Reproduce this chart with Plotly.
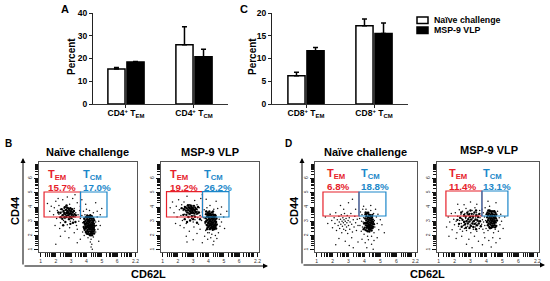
import plotly.graph_objects as go

W, H = 550, 281
FONT = "Liberation Sans, Arial, sans-serif"

# ---- bar chart data ----
cats_a = ["CD4<sup>+</sup> T<sub>EM</sub>", "CD4<sup>+</sup> T<sub>CM</sub>"]
naive_a = [15.4, 26.0]
naive_a_err = [0.6, 8.0]
vlp_a = [18.5, 20.8]
vlp_a_err = [0.2, 3.3]

cats_c = ["CD8<sup>+</sup> T<sub>EM</sub>", "CD8<sup>+</sup> T<sub>CM</sub>"]
naive_c = [6.2, 17.2]
naive_c_err = [0.8, 1.5]
vlp_c = [11.7, 15.5]
vlp_c_err = [0.7, 2.3]

# ---- flow panel text ----
pct_b1 = ["15.7%", "17.0%"]
pct_b2 = ["19.2%", "26.2%"]
pct_d1 = ["6.8%", "18.8%"]
pct_d2 = ["11.4%", "13.1%"]

# ---- flow dots (x = CD62L tick units, y = CD44 tick units) ----
b1_pts = [
(1.45,4.25),(1.6,3.7),(1.7,4.05),(1.85,3.45),(1.9,3.95),(2.0,4.4),(2.05,3.2),(2.1,3.75),(2.2,3.5),(2.2,4.1),
(2.3,2.9),(2.3,3.85),(2.35,3.3),(2.4,3.65),(2.45,4.5),(2.5,3.05),(2.5,3.5),(2.55,3.9),(2.6,3.75),(2.6,3.2),
(2.65,3.6),(2.65,4.05),(2.7,3.4),(2.7,3.85),(2.72,3.7),(2.75,2.75),(2.78,3.55),(2.8,3.95),(2.8,3.25),(2.85,3.65),
(2.85,3.8),(2.9,3.45),(2.9,4.2),(2.95,3.6),(2.95,3.0),(3.0,3.85),(3.0,3.35),(3.05,3.7),(3.1,4.6),(3.1,3.5),
(3.15,3.1),(3.2,3.9),(3.25,3.3),(3.3,3.6),(3.35,2.7),(3.4,4.3),(3.45,3.45),(3.5,3.0),(3.55,3.75),(3.6,3.2),
(2.25,2.5),(2.6,2.3),(2.9,2.55),(3.2,2.2),(3.4,2.45),(1.95,2.7),(2.75,4.7),(3.25,4.85),(2.15,4.6),(3.7,4.5),
(3.7,3.4),(3.75,2.9),(3.8,3.7),(3.82,2.5),(3.85,3.15),(3.9,2.75),(3.9,3.45),(3.95,2.3),(3.95,3.0),(3.98,3.3),
(4.0,3.85),(4.2,3.75),(4.45,3.6),(4.7,3.7),(4.9,3.45),(3.6,4.05),(3.95,4.2),(4.6,4.3),(5.0,3.9),(4.35,1.4),(4.3,1.2),
(4.38,1.05),(4.25,1.55),(3.4,1.5),(2.85,1.85),(2.3,1.95),(3.6,1.75),(2.0,1.4),(4.8,1.6),
(4.7,3.3),(4.75,2.45),(4.8,3.0),(4.9,2.7),(3.85,2.0),(3.75,2.25),(4.1,1.85),(4.3,1.75),(4.45,1.9),(4.6,2.95),(4.6,2.25),(4.65,2.7)]
b1_core = [
(3.82,2.6),(3.84,2.95),(3.86,3.2),(3.88,2.4),(3.92,2.75),(3.94,3.05),(3.96,2.25),(3.98,3.3),(4.0,2.55),(4.0,2.9),
(4.02,2.15),(4.04,3.15),(4.06,2.4),(4.06,2.7),(4.08,2.98),(4.1,3.28),(4.12,2.25),(4.12,2.55),(4.14,2.82),(4.16,3.1),
(4.18,2.1),(4.18,2.42),(4.2,2.68),(4.2,2.95),(4.22,3.22),(4.24,2.28),(4.25,2.55),(4.26,2.8),(4.28,3.05),(4.28,3.35),
(4.3,2.15),(4.3,2.42),(4.32,2.68),(4.33,2.92),(4.34,3.18),(4.36,2.3),(4.37,2.55),(4.38,2.8),(4.4,3.05),(4.4,2.15),
(4.42,2.42),(4.43,2.68),(4.44,2.95),(4.45,3.2),(4.47,2.28),(4.48,2.55),(4.49,2.82),(4.5,3.08),(4.52,2.4),(4.54,2.68),
(3.9,2.5),(3.98,2.82),(4.03,2.62),(4.1,2.85),(4.15,2.68),(4.22,2.48),(4.29,2.75),(4.35,2.62),(4.41,2.88),(4.46,2.48),
(4.08,2.12),(4.24,2.02),(4.36,2.02),(4.15,3.35),(4.35,3.35),(4.5,2.15),(3.88,2.85),(3.95,2.6),(4.05,3.4),(4.25,3.42),
(4.27,2.6),(4.17,2.98),(4.12,3.08),(4.33,2.22),(4.06,2.32),(4.4,2.5)]
b1_em = [
(2.3,3.6),(2.38,3.85),(2.44,3.42),(2.5,3.72),(2.55,3.58),(2.58,3.98),(2.62,3.48),(2.66,3.8),(2.68,3.3),(2.72,3.58),
(2.74,3.95),(2.76,3.72),(2.8,3.42),(2.82,3.62),(2.84,3.88),(2.88,3.52),(2.9,3.75),(2.92,3.32),(2.95,3.92),(2.98,3.55),
(3.0,3.7),(3.04,3.45),(3.06,3.85),(3.1,3.62),(3.14,3.35),(3.18,3.72),(2.56,3.28),(2.7,4.1),(2.86,3.15),(3.02,3.22),
(3.22,3.5),(2.42,3.18),(2.3,3.28),(2.16,3.62),(3.3,3.42),(2.62,2.95),(3.12,2.9),(2.48,2.72),(2.95,2.82),(3.28,2.95)]

b2_pts = [
(1.5,3.95),(1.65,4.35),(1.75,3.6),(1.9,4.05),(1.95,3.3),(2.05,4.5),(2.1,3.8),(2.2,3.4),(2.25,4.15),(2.3,3.05),
(2.35,3.75),(2.4,4.35),(2.45,3.5),(2.5,3.95),(2.55,2.85),(2.55,3.65),(2.6,4.05),(2.65,3.85),(2.65,3.3),(2.7,3.95),
(2.72,3.6),(2.75,4.15),(2.78,3.8),(2.8,3.45),(2.82,4.0),(2.85,3.7),(2.88,3.9),(2.9,3.2),(2.92,4.1),(2.95,3.55),
(2.98,3.8),(3.0,2.95),(3.02,3.95),(3.05,3.4),(3.08,3.7),(3.1,4.45),(3.12,3.1),(3.15,3.85),(3.2,3.5),(3.25,4.15),
(3.3,3.25),(3.3,3.7),(3.35,2.8),(3.4,3.95),(3.45,3.4),(3.5,4.6),(3.55,3.05),(3.6,3.65),(2.4,2.55),(2.75,2.3),
(3.05,2.6),(3.25,2.15),(2.55,1.95),(2.15,2.7),(3.45,2.45),(3.6,4.85),(2.6,4.75),(1.85,2.85),
(3.7,3.25),(3.72,3.8),(3.78,2.85),(3.82,2.35),(3.88,3.7),(3.95,2.2),(4.05,2.2),(4.22,2.1),(4.45,2.0),(4.65,2.2),
(4.7,3.15),(4.75,2.65),(4.8,3.5),(4.85,2.95),(5.0,3.3),
(5.05,2.5),(3.75,1.95),(3.95,1.75),(4.15,1.85),(4.35,1.6),(4.55,1.8),(4.3,1.35),(3.6,1.5),(3.0,1.7),(3.9,3.95),
(4.1,4.1),(4.35,3.85),(4.6,3.9),(4.85,4.0),(4.5,4.4),(3.85,4.55),(5.2,3.7),(2.6,1.55)]
b2_core = [
(3.8,2.95),(3.82,3.22),(3.84,3.5),(3.88,2.75),(3.9,3.08),(3.92,3.35),(3.94,2.55),(3.96,3.6),(3.98,2.88),(4.0,3.15),
(4.02,2.62),(4.03,3.42),(4.05,2.98),(4.07,2.72),(4.09,3.25),(4.1,3.55),(4.12,2.52),(4.14,2.85),(4.15,3.1),(4.17,3.38),
(4.19,2.68),(4.2,2.95),(4.22,3.22),(4.23,3.62),(4.25,2.5),(4.26,2.78),(4.27,3.05),(4.29,3.32),(4.3,2.62),(4.32,2.9),
(4.33,3.15),(4.35,3.45),(4.36,2.72),(4.38,2.45),(4.39,3.0),(4.4,3.25),(4.42,2.58),(4.44,2.82),(4.45,3.1),(4.47,3.38),
(4.48,2.68),(4.5,2.95),(4.52,3.2),(3.86,3.0),(3.93,2.7),(4.0,3.3),(4.06,3.1),(4.13,3.48),(4.18,2.58),(4.24,2.9),
(4.3,3.48),(4.34,2.55),(4.41,2.72),(4.46,2.95),(4.16,2.75),(4.08,2.45),(4.28,2.4),(4.2,3.45),(3.98,3.5),(4.36,3.3),
(4.11,3.0),(4.25,3.2),(4.02,2.85),(4.43,3.45),(3.9,2.45),(4.5,2.5),(4.54,2.78),(3.85,3.68),(4.06,3.68),(4.3,3.68)]
b2_em = [
(2.4,3.85),(2.46,4.0),(2.52,3.75),(2.58,3.92),(2.62,3.62),(2.66,4.12),(2.68,3.78),(2.72,3.98),(2.75,3.52),(2.78,3.92),
(2.8,3.7),(2.83,4.1),(2.86,3.58),(2.88,3.82),(2.9,4.0),(2.94,3.72),(2.96,3.92),(3.0,3.62),(3.02,3.82),(3.05,4.08),
(3.08,3.55),(3.1,3.78),(3.14,3.95),(3.18,3.65),(3.22,3.85),(3.28,3.55),(2.56,3.45),(2.7,3.3),(2.92,3.35),(3.12,3.32),
(2.36,3.45),(2.25,3.92),(3.32,4.0),(3.38,3.62),(2.8,3.05),(3.0,3.15),(2.6,2.95),(3.25,2.9),(2.45,3.15),(3.45,3.15)]

d1_pts = [
(1.55,3.3),(1.7,2.85),(1.85,3.5),(1.95,3.05),(2.0,2.55),(2.1,3.25),(2.15,2.85),(2.2,3.6),(2.25,2.35),(2.3,3.1),
(2.35,2.7),(2.4,3.35),(2.42,2.95),(2.45,2.5),(2.5,3.15),(2.52,2.8),(2.55,3.45),(2.58,2.2),(2.6,3.0),(2.62,2.65),
(2.65,3.25),(2.68,2.9),(2.7,2.45),(2.72,3.1),(2.75,3.55),(2.78,2.75),(2.8,3.0),(2.82,2.35),(2.85,3.2),(2.88,2.6),
(2.9,2.9),(2.92,3.4),(2.95,2.15),(2.98,3.05),(3.0,2.7),(3.05,3.25),(3.08,2.45),(3.1,2.95),(3.15,3.55),(3.2,2.8),
(3.25,2.25),(3.3,3.1),(3.35,2.6),(3.4,3.35),(3.45,2.9),(3.5,2.35),(3.55,3.15),(3.6,2.7),(2.4,1.8),(2.8,1.6),
(3.2,1.85),(3.05,1.3),(2.5,4.1),(3.0,4.3),(3.25,4.55),(2.7,3.85),(3.45,3.85),(2.2,1.35),
(3.7,3.2),(3.72,2.7),(3.75,3.65),(3.8,2.3),(3.82,3.0),(3.85,3.45),(3.88,2.6),(3.9,3.85),(3.92,2.95),(3.95,3.25),
(3.98,2.1),(4.1,3.85),(4.2,1.95),(4.4,3.75),(4.45,1.95),(4.58,3.55),(4.6,2.2),(4.62,3.05),(4.65,2.6),(4.7,3.85),(4.75,3.3),(4.8,2.85),
(4.85,3.5),(4.9,2.4),(5.0,3.1),(5.1,2.75),(3.85,1.75),(4.05,1.5),(4.25,1.7),(4.45,1.4),(4.6,1.65),(4.8,1.85),
(3.6,1.55),(3.3,1.15),(4.15,1.15),(4.55,1.05),(5.25,2.2),(3.95,4.05),(4.4,4.1)]
d1_core = [
(4.02,2.55),(4.04,2.88),(4.05,3.2),(4.07,3.5),(4.09,2.38),(4.1,2.72),(4.12,3.05),(4.13,3.35),(4.15,2.55),(4.16,2.88),
(4.18,3.18),(4.19,3.58),(4.2,2.3),(4.22,2.68),(4.23,2.98),(4.24,3.28),(4.26,2.48),(4.27,2.8),(4.28,3.1),(4.29,3.45),
(4.31,2.28),(4.32,2.62),(4.33,2.92),(4.34,3.22),(4.36,2.42),(4.37,2.75),(4.38,3.05),(4.39,3.35),(4.41,2.55),(4.42,2.88),
(4.43,3.18),(4.45,2.35),(4.46,2.68),(4.47,3.0),(4.48,3.3),(4.5,2.52),(4.51,2.82),(4.52,3.12),(4.54,2.62),(4.55,2.95),
(4.25,2.62),(4.35,2.55),(4.3,2.72),(4.21,2.85),(4.4,2.7),(4.29,2.42),(4.18,2.62),(4.44,2.52),(4.34,3.45),(4.14,3.52),
(4.08,3.62),(4.24,3.6),(4.5,3.45),(3.98,2.85),(3.95,2.45),(4.6,2.8)]

d2_pts = [
(1.5,2.6),(1.6,3.3),(1.7,2.95),(1.8,3.55),(1.85,2.4),(1.95,3.15),(2.0,2.75),(2.05,3.6),(2.1,3.0),(2.15,2.2),
(2.2,3.35),(2.25,2.65),(2.3,3.8),(2.32,3.05),(2.35,2.45),(2.4,3.5),(2.42,2.85),(2.45,3.2),(2.5,2.3),(2.5,3.7),
(2.55,2.7),(2.58,3.35),(2.6,3.0),(2.62,2.5),(2.65,3.55),(2.68,2.85),(2.7,3.2),(2.72,3.9),(2.75,2.35),(2.78,3.05),
(2.8,3.45),(2.82,2.65),(2.85,3.7),(2.88,2.95),(2.9,3.25),(2.92,2.5),(2.95,3.55),(2.98,2.8),(3.0,3.1),(3.02,2.2),
(3.05,3.35),(3.08,2.65),(3.1,3.75),(3.12,2.95),(3.15,3.2),(3.18,2.45),(3.2,3.5),(3.22,2.8),(3.25,3.05),(3.28,3.95),
(3.3,2.6),(3.32,3.3),(3.35,2.9),(3.38,3.6),(3.4,2.3),(3.42,3.15),(3.45,2.7),(3.48,3.45),(3.5,3.0),(3.55,2.5),
(3.58,3.75),(3.6,3.25),(2.45,1.95),(2.9,1.75),(3.25,1.95),(3.5,1.6),(2.1,1.8),(1.65,1.95),(2.6,4.15),(3.0,4.35),
(2.2,4.2),(3.4,4.2),(2.75,1.4),(3.1,1.15),
(3.68,3.4),(3.7,2.8),(3.72,3.85),(3.75,3.1),(3.78,2.45),(3.8,3.6),(3.82,2.95),(3.85,2.2),(3.88,3.3),(3.9,2.7),
(3.92,3.95),(3.95,3.05),(3.98,2.5),(4.0,3.5),(4.1,2.35),(4.2,4.05),(4.45,2.2),(4.55,2.45),(4.7,3.7),(4.75,2.3),(4.8,3.25),
(4.85,2.75),(4.9,3.5),(4.95,3.0),(5.05,2.5),(3.9,1.85),(4.15,1.65),(4.4,1.85),(4.6,1.5),(4.85,1.8),(3.75,1.35),
(4.3,1.2),(4.1,4.4),(4.6,4.3),(5.15,3.3)]
d2_core = [
(4.03,2.95),(4.05,3.28),(4.07,3.62),(4.09,2.72),(4.1,3.08),(4.12,3.42),(4.14,2.85),(4.15,3.2),(4.17,3.55),(4.18,2.6),
(4.2,2.98),(4.22,3.32),(4.23,3.7),(4.25,2.78),(4.26,3.1),(4.27,3.45),(4.29,2.9),(4.3,3.22),(4.32,3.58),(4.33,2.68),
(4.35,3.02),(4.36,3.35),(4.38,2.85),(4.39,3.15),(4.4,3.5),(4.42,2.7),(4.43,3.0),(4.45,3.28),(4.46,3.68),(4.48,2.88),
(4.49,3.18),(4.5,3.45),(4.52,2.72),(4.53,3.02),(4.55,3.32),(4.56,3.6),(4.58,2.92),(4.6,3.2),(4.62,2.68),(4.62,3.48),
(4.3,2.55),(4.4,2.6),(4.2,3.75),(4.5,3.7),(4.12,3.75),(4.35,3.7),(4.02,3.5),(4.66,3.05),(4.55,2.58),(4.23,2.52)]
d2_em = [
(2.5,3.1),(2.6,3.45),(2.65,2.78),(2.7,3.32),(2.75,3.0),(2.8,3.6),(2.83,2.85),(2.86,3.15),(2.9,3.48),(2.94,2.98),
(2.98,3.3),(3.02,2.68),(3.05,3.12),(3.08,3.52),(3.12,2.85),(3.16,3.32),(3.2,3.0),(3.25,3.62),(3.28,2.82),(3.32,3.12),
(3.36,3.42),(3.4,2.72),(3.44,3.05),(3.48,3.3),(3.52,2.85),(3.56,3.52),(3.6,3.0),(2.35,3.25),(2.28,2.82),(2.45,2.62),
(2.72,2.55),(2.95,2.55),(3.18,2.6),(3.35,2.45),(3.65,2.65),(2.18,3.1),(2.42,3.62),(3.0,3.75),(2.6,2.95),(3.35,3.75)]

# ---- flow gates: [left, middle, right, bottom, top] in tick units ----
gate_b1 = [1.23, 3.61, 5.34, 3.30, 5.05]
gate_b2 = [1.26, 3.61, 5.34, 3.30, 5.08]
gate_d1 = [1.40, 3.66, 5.35, 3.37, 5.05]
gate_d2 = [1.46, 3.72, 5.35, 3.37, 5.12]

RED, BLUE = "#e6212b", "#1c87c9"
minor_offsets = [0.30, 0.48, 0.60, 0.70, 0.78, 0.85, 0.90, 0.95]
major_ticks = [1, 2, 3, 4, 5, 6, 7.2]
major_labels = ["1", "2", "3", "4", "5", "6", "2.2"]


def dom_x(a, b):
    return [a / W, b / W]


def dom_y(top, bottom):
    return [1 - bottom / H, 1 - top / H]


def px(x):
    return x / W


def py(y):
    return 1 - y / H


fig = go.Figure()
layout = dict(
    width=W, height=H, autosize=False, margin=dict(l=0, r=0, t=0, b=0, pad=0),
    paper_bgcolor="white", plot_bgcolor="white", showlegend=False,
    barmode="group", bargap=0.44, bargroupgap=0.1,
    font=dict(family=FONT, color="black"),
)
shapes, notes = [], []


def text(x, y, s, size, color="black", anchor="center", angle=0, bold=True):
    notes.append(dict(
        x=px(x), y=py(y), xref="paper", yref="paper", text=f"<b>{s}</b>" if bold else s,
        showarrow=False, xanchor=anchor, yanchor="middle", textangle=angle,
        font=dict(size=size, color=color, family=FONT),
    ))


def bar_panel(n, cats, v1, e1, v2, e2, ymax, dtick, x0, x1, xr):
    xa, ya = f"x{n}", f"y{n}"
    fig.add_bar(x=cats, y=v1, name="Naïve challenge", xaxis=xa, yaxis=ya,
                marker=dict(color="white", line=dict(color="black", width=1.5)),
                error_y=dict(type="data", symmetric=False, array=e1, arrayminus=[0, 0],
                             color="black", thickness=1.5, width=2.5))
    fig.add_bar(x=cats, y=v2, name="MSP-9 VLP", xaxis=xa, yaxis=ya,
                marker=dict(color="black", line=dict(color="black", width=1.5)),
                error_y=dict(type="data", symmetric=False, array=e2, arrayminus=[0, 0],
                             color="black", thickness=1.5, width=2.5))
    layout[f"xaxis{n}"] = dict(
        domain=dom_x(x0, x1), anchor=ya, type="category", range=xr, automargin=False,
        showline=True, linecolor="#333", linewidth=1.2, showgrid=False, zeroline=False,
        ticks="outside", ticklen=3, tickwidth=1, tickcolor="#222", ticklabelstandoff=-2,
        tickfont=dict(size=8.5, family=FONT, color="black"),
        tickmode="array", tickvals=cats, ticktext=[f"<b>{c}</b>" for c in cats],
    )
    layout[f"yaxis{n}"] = dict(
        domain=dom_y(13, 104), anchor=xa, range=[0, ymax], automargin=False,
        showline=True, linecolor="#222", linewidth=1.2, showgrid=False, zeroline=False,
        ticks="outside", ticklen=3, tickwidth=1.2, tickcolor="#222",
        tickmode="array", tickvals=list(range(0, ymax + 1, dtick)),
        ticktext=[f"<b>{v}</b>" for v in range(0, ymax + 1, dtick)],
        tickfont=dict(size=8.5, family=FONT, color="black"),
    )


def flow_panel(n, pts, core, gate, x0, x1):
    xa, ya = f"x{n}", f"y{n}"
    fig.add_scatter(x=[p[0] for p in pts], y=[p[1] for p in pts], mode="markers",
                    xaxis=xa, yaxis=ya, hoverinfo="skip",
                    marker=dict(color="#111", size=1.5, symbol="circle", line=dict(width=0)))
    fig.add_scatter(x=[p[0] for p in core], y=[p[1] for p in core], mode="markers",
                    xaxis=xa, yaxis=ya, hoverinfo="skip",
                    marker=dict(color="black", size=2.4, symbol="circle", line=dict(width=0)))
    minors = [d + m for d in range(1, 7) for m in minor_offsets]
    common = dict(
        showline=True, mirror=True, linecolor="#555", linewidth=1, showgrid=False, zeroline=False,
        automargin=False,
        ticks="outside", ticklen=4, tickwidth=1, tickcolor="#111", tickmode="array",
        tickvals=major_ticks, ticktext=major_labels, tickfont=dict(size=5, family=FONT, color="#333"),
        minor=dict(tickmode="array", tickvals=minors, ticks="outside", ticklen=3.5, tickwidth=1, tickcolor="#111"),
    )
    layout[f"xaxis{n}"] = dict(domain=dom_x(x0, x1), anchor=ya, range=[0.9, 7.3], **common)
    layout[f"yaxis{n}"] = dict(domain=dom_y(162, 252), anchor=xa, range=[0.85, 7.15],
                               tickangle=-90, **common)
    l, m, r, b, t = gate
    shapes.append(dict(type="rect", xref=xa, yref=ya, x0=l, x1=m, y0=b, y1=t,
                       line=dict(color=RED, width=1.2)))
    shapes.append(dict(type="rect", xref=xa, yref=ya, x0=m, x1=r, y0=b, y1=t,
                       line=dict(color=BLUE, width=1.2)))


bar_panel(1, cats_a, naive_a, naive_a_err, vlp_a, vlp_a_err, 40, 10, 93, 228, [-0.485, 1.5])
bar_panel(2, cats_c, naive_c, naive_c_err, vlp_c, vlp_c_err, 20, 5, 272, 408, [-0.5, 1.5])
flow_panel(3, b1_pts, b1_core + b1_em, gate_b1, 39, 137)
flow_panel(4, b2_pts, b2_core + b2_em, gate_b2, 161, 259)
flow_panel(5, d1_pts, d1_core, gate_d1, 315, 417)
flow_panel(6, d2_pts, d2_core + d2_em, gate_d2, 437, 539)

# panel letters and axis titles
text(65, 9, "A", 11)
text(244, 9, "C", 11)
text(8, 143, "B", 10)
text(288, 143, "D", 10)
text(71, 57, "Percent", 10, angle=-90)
text(252, 57, "Percent", 10, angle=-90)
text(15, 211, "CD44", 11, angle=-90)
text(294, 211, "CD44", 11, angle=-90)
text(148, 274, "CD62L", 11)
text(427, 274, "CD62L", 11)

# flow titles
text(87.5, 152, "Naïve challenge", 11)
text(210, 152, "MSP-9 VLP", 11)
text(365.5, 152, "Naïve challenge", 11)
text(489, 150, "MSP-9 VLP", 11)

# gate labels
for xl, xr_, ytop, pct in [(46, 80.5, 175, pct_b1), (168, 202, 175, pct_b2),
                           (325, 359, 174, pct_d1), (447, 481, 174, pct_d2)]:
    text(xl, ytop, "T<sub>EM</sub>", 11, RED, "left")
    text(xr_, ytop, "T<sub>CM</sub>", 11, BLUE, "left")
    text(xl, ytop + 12.5, pct[0], 9.8, RED, "left")
    text(xr_, ytop + 12.5, pct[1], 9.8, BLUE, "left")

# legend
shapes.append(dict(type="rect", xref="paper", yref="paper", x0=px(417), x1=px(428), y0=py(23.5), y1=py(17),
                   fillcolor="white", line=dict(color="black", width=1.5)))
shapes.append(dict(type="rect", xref="paper", yref="paper", x0=px(417), x1=px(428), y0=py(33.5), y1=py(27),
                   fillcolor="black", line=dict(color="black", width=1.5)))
text(432, 20, "Naïve challenge", 8.8, anchor="left")
text(432, 30, "MSP-9 VLP", 8.8, anchor="left")

# flow axes arrows
for ax_x, ax_y, end_x in [(23, 266, 268), (302, 265, 545)]:
    notes.append(dict(x=px(ax_x), y=py(158), xref="paper", yref="paper", ax=0, ay=ax_y - 158, text="",
                      showarrow=True, arrowhead=2, arrowsize=1, arrowwidth=1, arrowcolor="black"))
    notes.append(dict(x=px(end_x), y=py(ax_y), xref="paper", yref="paper", ax=ax_x - end_x, ay=0, text="",
                      showarrow=True, arrowhead=2, arrowsize=1, arrowwidth=1, arrowcolor="black"))

layout["shapes"] = shapes
layout["annotations"] = notes
fig.update_layout(**layout)
fig.write_html("out.html", config=dict(displayModeBar=False),
               post_script="document.body.style.margin='0';")
